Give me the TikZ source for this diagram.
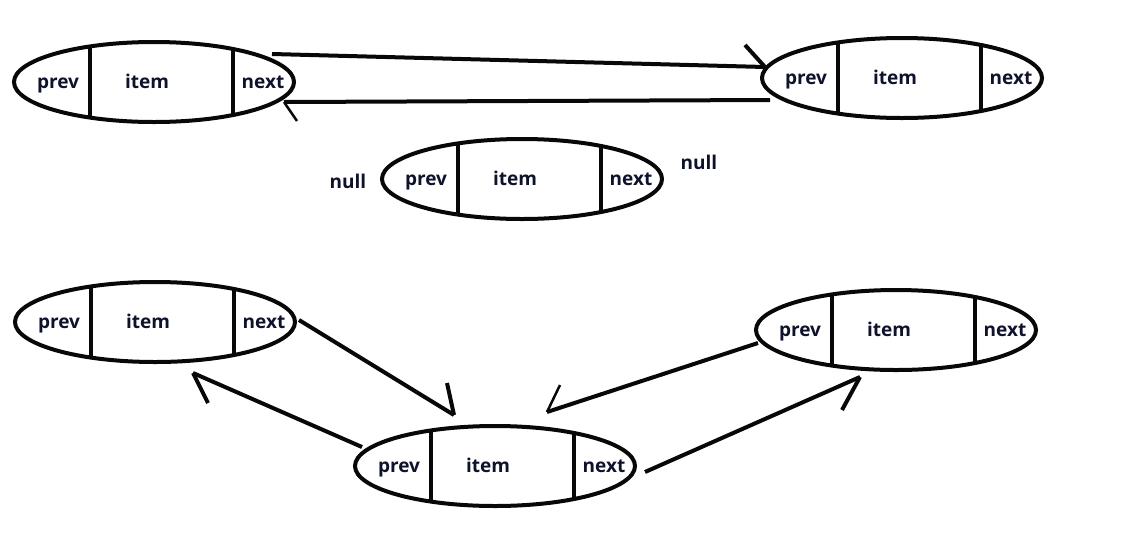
\documentclass[tikz,border=0pt]{standalone}
\usepackage{fontspec}
\setmainfont{Open Sans}
\usetikzlibrary{shapes.geometric}
\definecolor{nink}{RGB}{8,8,8}
\definecolor{ntext}{RGB}{14,18,42}

% one list cell: name, x, y
\newcommand{\dlcell}[3]{%
    \node[cell] (#1) at (#2,#3) {};
    \begin{scope}
        \clip (#1.center) ellipse [x radius=140, y radius=40];
        \draw (#2-64,#3-45) -- (#2-64,#3+45);
        \draw (#2+79,#3-45) -- (#2+79,#3+45);
    \end{scope}
    \node[word] (#1-prev) at (#2-96,#3) {prev};
    \node[word] (#1-item) at (#2-7,#3) {item};
    \node[word] (#1-next) at (#2+109,#3) {next};
}

\begin{document}
\begin{tikzpicture}[x=1pt,y=-1pt,line width=4pt,draw=nink]
    \tikzstyle{cell}=[ellipse,draw=nink,line width=4pt,inner sep=0,minimum width=280pt,minimum height=80pt]
    \tikzstyle{word}=[inner sep=0,text height=14pt,text depth=2pt,text=ntext,font=\fontsize{19}{21}\selectfont\bfseries]
    \useasboundingbox (0,0) rectangle (1136,539);

    \dlcell{tl}{154}{82}
    \dlcell{tr}{902}{78}
    \dlcell{mid}{522}{179}
    \dlcell{bl}{155}{322}
    \dlcell{br}{896}{330}
    \dlcell{bm}{495}{466}

    \node[word] (nullL) at (348,182) {null};
    \node[word] (nullR) at (699,163) {null};

    % top pair
    \coordinate (tlOut) at (272,54);
    \coordinate (trIn) at (765,67);
    \coordinate (trBarb) at (745,45);
    \coordinate (trOut) at (770,100);
    \coordinate (tlIn) at (284,102);
    \coordinate (tlBarb) at (297,121);
    \draw (tlOut) -- (trIn);
    \draw (trBarb) -- (trIn);
    \draw (trOut) -- (tlIn);
    \draw (tlBarb) -- (tlIn) [line width=2.5pt];

    % bottom group
    \coordinate (blOut) at (299,320);
    \coordinate (bmInL) at (454,415);
    \coordinate (bmBarbL) at (447,383);
    \coordinate (bmOutL) at (362,447);
    \coordinate (blIn) at (193,373);
    \coordinate (blBarb) at (208,403);
    \coordinate (brOut) at (758,343);
    \coordinate (bmInR) at (547,412);
    \coordinate (bmBarbR) at (560,385);
    \coordinate (bmOutR) at (645,472);
    \coordinate (brIn) at (860,377);
    \coordinate (brBarb) at (842,410);
    \draw (blOut) -- (bmInL);
    \draw (bmBarbL) -- (bmInL);
    \draw (bmOutL) -- (blIn);
    \draw (blBarb) -- (blIn);
    \draw (brOut) -- (bmInR);
    \draw (bmBarbR) -- (bmInR) [line width=2.5pt];
    \draw (bmOutR) -- (brIn);
    \draw (brBarb) -- (brIn);
\end{tikzpicture}
\end{document}
